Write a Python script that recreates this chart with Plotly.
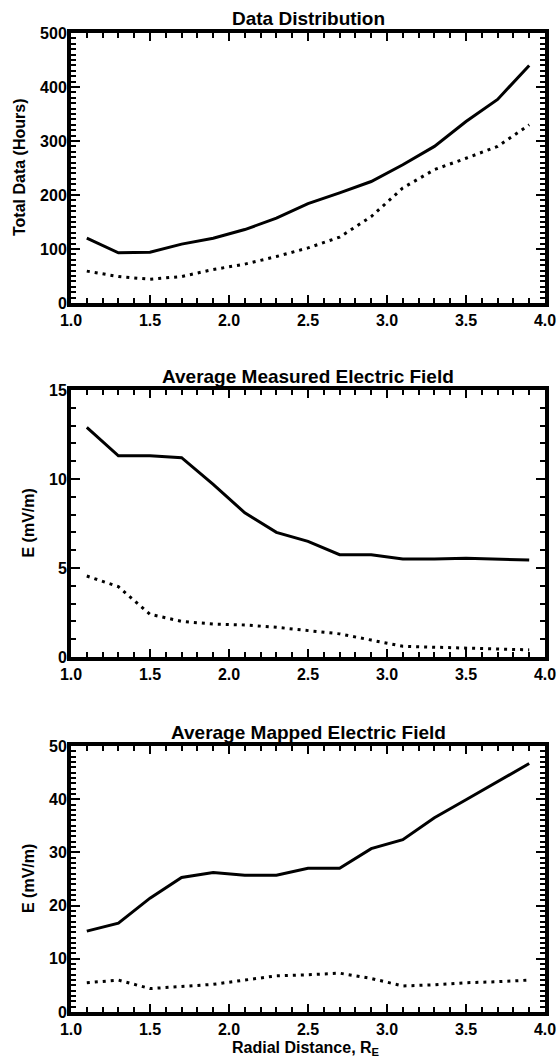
import plotly.graph_objects as go

# ---- data ----
radial = [1.1, 1.3, 1.5, 1.7, 1.9, 2.1, 2.3, 2.5, 2.7, 2.9, 3.1, 3.3, 3.5, 3.7, 3.9]

data_solid = [120, 93, 94, 109, 120, 136, 157, 184, 204, 225, 256, 290, 336, 377, 440]
data_dotted = [59, 49, 44, 49, 62, 72, 86, 102, 122, 160, 213, 247, 268, 290, 330]

meas_solid = [12.9, 11.3, 11.3, 11.2, 9.7, 8.1, 7.0, 6.5, 5.75, 5.75, 5.5, 5.5, 5.55, 5.52, 5.45]
meas_dotted = [4.55, 3.95, 2.4, 2.0, 1.85, 1.8, 1.67, 1.48, 1.3, 0.95, 0.6, 0.55, 0.5, 0.45, 0.4]

map_solid = [15.2, 16.7, 21.4, 25.3, 26.2, 25.7, 25.7, 27.0, 27.0, 30.7, 32.4, 36.5, 39.9, 43.3, 46.7]
map_dotted = [5.5, 6.0, 4.4, 4.75, 5.2, 6.0, 6.8, 7.0, 7.3, 6.3, 4.9, 5.1, 5.5, 5.7, 6.0]

titles = ["Data Distribution", "Average Measured Electric Field", "Average Mapped Electric Field"]
ytitles = ["Total Data (Hours)", "E (mV/m)", "E (mV/m)"]
xtitle = "Radial Distance, R<sub>E</sub>"

xrange_ = [1.0, 4.0]
xmajor, xminor = 0.5, 0.1
yranges = [[0, 500], [0, 15], [0, 50]]
ydticks = [100, 5, 10]
yminor = [10, 1, 1]

# ---- layout geometry ----
W, H = 557, 1063
L, R = 71, 12
plot_w = W - L - R
panels_px = [(33, 303), (390, 657), (746, 1012)]  # top, bottom in pixels

FONT = "Liberation Sans, Arial, Helvetica, sans-serif"
TICKFONT = dict(family=FONT, size=16, color="black", weight="bold")

fig = go.Figure()
series = [(data_solid, data_dotted), (meas_solid, meas_dotted), (map_solid, map_dotted)]

annotations = []
for i, ((s, d), (top, bot)) in enumerate(zip(series, panels_px)):
    n = "" if i == 0 else str(i + 1)
    xa, ya = "x" + n, "y" + n
    fig.add_trace(go.Scatter(x=radial, y=s, mode="lines", xaxis=xa, yaxis=ya,
                             line=dict(color="black", width=3), showlegend=False))
    fig.add_trace(go.Scatter(x=radial, y=d, mode="lines", xaxis=xa, yaxis=ya,
                             line=dict(color="black", width=3, dash="3px,5px"), showlegend=False))
    dom = [1 - bot / H, 1 - top / H]
    fig.layout["xaxis" + n] = dict(
        domain=[0, 1], anchor=ya, range=xrange_, dtick=xmajor, tick0=1.0,
        tickformat=".1f", ticks="inside", ticklen=8, tickwidth=2, tickcolor="black",
        minor=dict(dtick=xminor, ticks="inside", ticklen=5, tickwidth=2, tickcolor="black"),
        showline=True, linewidth=4, linecolor="black", mirror="allticks",
        showgrid=False, zeroline=False, ticklabelstandoff=0,
        tickfont=TICKFONT, fixedrange=True,
    )
    fig.layout["yaxis" + n] = dict(
        domain=dom, anchor=xa, range=yranges[i], dtick=ydticks[i], tick0=0,
        ticks="inside", ticklen=9, tickwidth=2, tickcolor="black",
        minor=dict(dtick=yminor[i], ticks="inside", ticklen=5, tickwidth=2, tickcolor="black"),
        showline=True, linewidth=4, linecolor="black", mirror="allticks",
        showgrid=False, zeroline=False, ticklabelstandoff=-3,
        tickfont=TICKFONT, fixedrange=True,
    )
    # panel title
    annotations.append(dict(text=titles[i], xref="paper", yref="paper",
                            x=0.5, y=1 - (top - 14) / H, xanchor="center", yanchor="middle",
                            showarrow=False,
                            font=dict(family=FONT, size=19, color="black", weight="bold")))
    # y-axis title
    xpix = 19 if i == 0 else 28
    annotations.append(dict(text=ytitles[i], xref="paper", yref="paper",
                            x=(xpix - L) / plot_w, y=1 - (top + bot) / 2 / H,
                            xanchor="center", yanchor="middle", textangle=-90, showarrow=False,
                            font=dict(family=FONT, size=16, color="black", weight="bold")))

annotations.append(dict(text=xtitle, xref="paper", yref="paper",
                        x=(306 - L) / plot_w, y=1 - 1048 / H, xanchor="center", yanchor="middle",
                        showarrow=False,
                        font=dict(family=FONT, size=16, color="black", weight="bold")))

fig.update_layout(
    width=W, height=H,
    margin=dict(l=L, r=R, t=0, b=0, autoexpand=False),
    paper_bgcolor="white", plot_bgcolor="white",
    annotations=annotations,
    showlegend=False,
)

fig.write_html("out.html", config={"displayModeBar": False},
               post_script="document.body.style.margin='0px';document.body.style.padding='0px';")
